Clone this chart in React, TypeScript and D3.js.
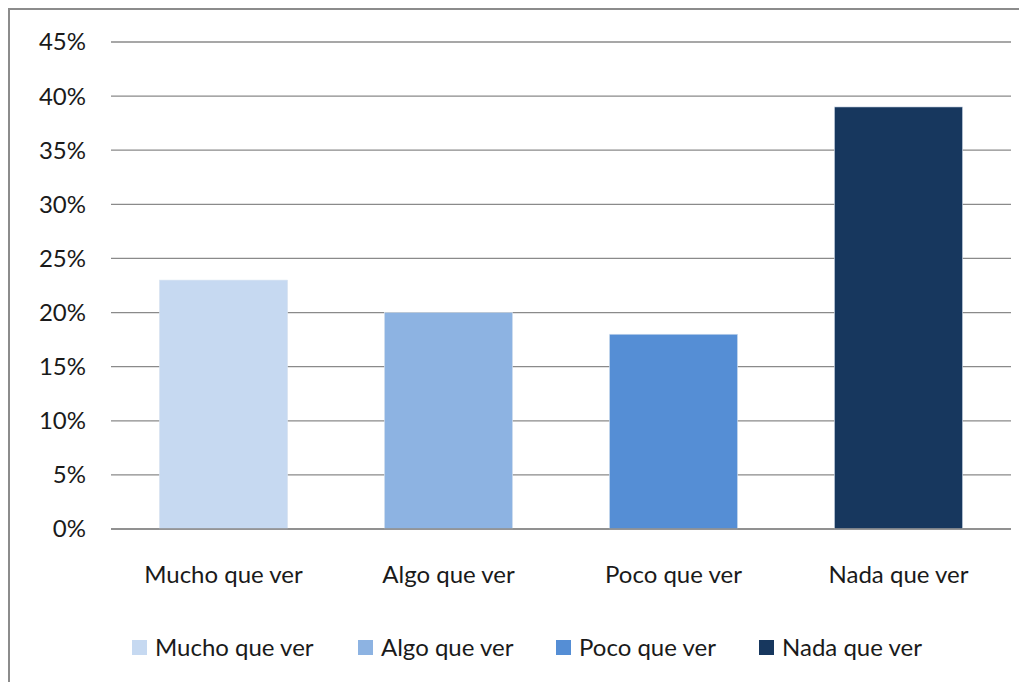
import React from "react";
import * as d3 from "d3";

const categories = ["Mucho que ver", "Algo que ver", "Poco que ver", "Nada que ver"];
const values = [0.23, 0.2, 0.18, 0.39];
const colors = ["#C6D9F1", "#8DB3E2", "#558ED5", "#17375E"];
const yTicks = [0, 0.05, 0.1, 0.15, 0.2, 0.25, 0.3, 0.35, 0.4, 0.45];

const W = 1019;
const H = 674;
const FONT = "Lato, 'Open Sans', sans-serif";

export default function App() {
  // svg placed at page (8,8)
  const x = d3.scaleBand<string>().domain(categories).range([103, 1003]).paddingInner(0.43).paddingOuter(0.215);
  const y = d3.scaleLinear().domain([0, 0.45]).range([521, 34]);
  const fmt = d3.format(".0%");
  const legendX = [124, 350, 548, 751];
  return (
    <svg width={W} height={H} style={{ display: "block" }}>
      <rect x={0} y={0} width={W} height={H} fill="#fff" />
      <rect x={1} y={1} width={W + 10} height={H + 10} fill="none" stroke="#8c8c8c" strokeWidth={2} />
      {yTicks.map((t) => (
        <g key={t}>
          <line x1={103} x2={1003} y1={y(t)} y2={y(t)} stroke="#8a8a8a" strokeWidth={1.3} />
          <text x={78} y={y(t)} dy="0.35em" textAnchor="end" fontFamily={FONT} fontSize={24} fill="#1a1a1a">
            {fmt(t)}
          </text>
        </g>
      ))}
      {categories.map((c, i) => (
        <g key={c}>
          <rect x={x(c)} y={y(values[i])} width={x.bandwidth()} height={y(0) - y(values[i])} fill={colors[i]} stroke="#dbe5f1" strokeWidth={0.6} />
          <text x={(x(c) as number) + x.bandwidth() / 2} y={567} dy="0.35em" textAnchor="middle" fontFamily={FONT} fontSize={24} fill="#1a1a1a">
            {c}
          </text>
        </g>
      ))}
      <line x1={103} x2={1003} y1={y(0)} y2={y(0)} stroke="#8a8a8a" strokeWidth={1.3} />
      {categories.map((c, i) => (
        <g key={"l" + c}>
          <rect x={legendX[i]} y={632} width={15} height={15} fill={colors[i]} />
          <text x={legendX[i] + 23} y={639.5} dy="0.35em" fontFamily={FONT} fontSize={24} fill="#1a1a1a">
            {c}
          </text>
        </g>
      ))}
    </svg>
  );
}
